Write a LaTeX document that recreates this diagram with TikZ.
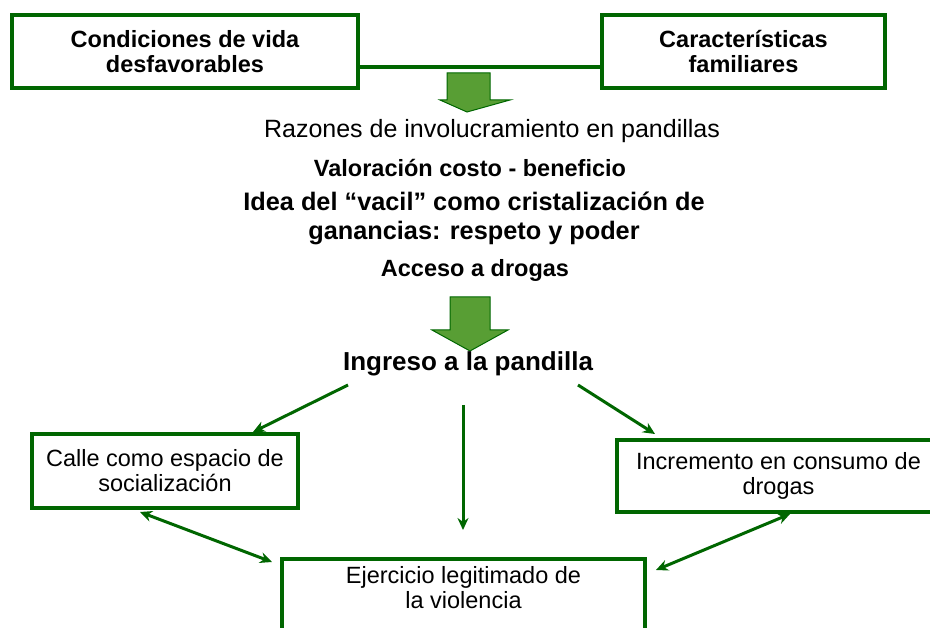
\documentclass[tikz,border=0pt]{standalone}
\usepackage{fontspec}
\setmainfont{Liberation Sans}
\usetikzlibrary{arrows.meta}
\definecolor{dgreen}{RGB}{0,102,0}
\definecolor{agreen}{RGB}{88,158,52}
\begin{document}
\begin{tikzpicture}[x=1pt,y=-1pt,
  box/.style={draw=dgreen,line width=4pt,align=center,inner sep=0pt,font=\fontsize{23.5}{25}\selectfont},
  bbox/.style={box,font=\fontsize{23.5}{25}\selectfont\bfseries},
  txt/.style={align=center,inner sep=0pt,font=\fontsize{23.5}{25}\selectfont},
  btxt/.style={txt,font=\fontsize{23.5}{25}\selectfont\bfseries},
  conn/.style={draw=dgreen,line width=3pt,-{Stealth[length=12pt,width=11pt]}},
  dconn/.style={draw=dgreen,line width=3pt,{Stealth[length=12pt,width=11pt]}-{Stealth[length=12pt,width=11pt]}},
  blockarrow/.style={fill=agreen,draw=dgreen,line width=1pt}]
\path[use as bounding box] (0,0) rectangle (930,628);
\clip (0,0) rectangle (930,628);
\node[bbox,minimum width=346pt,minimum height=73pt] (b1) at (185,51.5) {Condiciones de vida\\desfavorables};
\node[bbox,minimum width=283pt,minimum height=73pt] (b2) at (743.5,51.5) {Características\\familiares};
\draw[dgreen,line width=4pt] ([yshift=-15.5pt]b1.east) -- ([yshift=-15.5pt]b2.west);
% block arrow 1
\draw[blockarrow] (447,73) -- (490,73) -- (490,100) -- (510,100) -- (467,112) -- (440,100) -- (447,100) -- cycle;
\node[txt,font=\fontsize{25}{25}\selectfont] (razones) at (492,131) {Razones de involucramiento en pandillas};
\node[btxt] (valor) at (470,168) {Valoración costo - beneficio};
\node[btxt,font=\fontsize{25.3}{29}\selectfont\bfseries] (idea) at (474,218) {Idea del “vacil” como cristalización de\\ganancias: respeto y poder};
\node[btxt] (acceso) at (475,270) {Acceso a drogas};
% block arrow 2
\draw[blockarrow] (450,297) -- (490,297) -- (490,330) -- (508,330) -- (470,351) -- (432,330) -- (450,330) -- cycle;
\node[btxt,font=\fontsize{26}{29}\selectfont\bfseries] (ingreso) at (468,364) {Ingreso a la pandilla};
\node[box,minimum width=266pt,minimum height=74pt] (calle) at (165,471) {Calle como espacio de\\socialización};
\node[box,minimum width=323pt,minimum height=72pt] (incr) at (778.5,476) {Incremento en consumo de\\drogas};
\node[box,minimum width=363pt,minimum height=140pt,anchor=north] (ejer) at (463.5,557) {};
\node[txt,anchor=north] (ejtxt) at (463.5,566) {Ejercicio legitimado de\\la violencia};
\coordinate (s1) at (348,385);
\coordinate (s2) at (463,405);
\coordinate (s3) at (578,385);
\coordinate (e1) at (253,432);
\coordinate (e2) at (463,530);
\coordinate (e3) at (655,434);
\draw[conn] (s1) -- (e1);
\draw[conn] (s2) -- (e2);
\draw[conn] (s3) -- (e3);
\coordinate (d1a) at (140,512);
\coordinate (d1b) at (272,562);
\coordinate (d2a) at (790,514);
\coordinate (d2b) at (656,570);
\draw[dconn] (d1a) -- (d1b);
\draw[dconn] (d2a) -- (d2b);
\end{tikzpicture}
\end{document}
